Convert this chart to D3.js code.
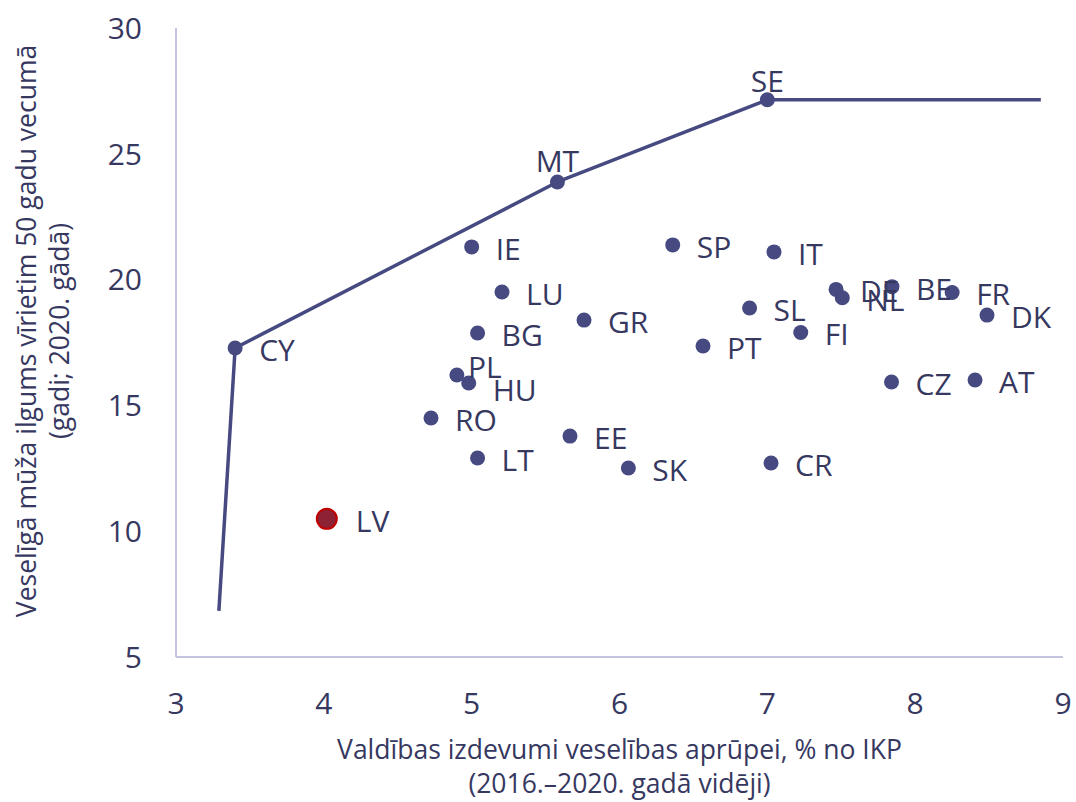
<!DOCTYPE html>
<html>
<head>
<meta charset="utf-8">
<script src="https://cdn.jsdelivr.net/npm/d3@7"></script>
<style>
  html, body { margin: 0; padding: 0; background: #fff; }
  svg { display: block; font-family: "Open Sans", "Noto Sans", sans-serif; }
</style>
</head>
<body>
<svg id="chart" width="1076" height="802"></svg>
<script>
// valstis: izdevumi % no IKP (x), veselīgā mūža ilgums (y)
const countries = ["CY", "MT", "SE", "IE", "LU", "BG", "GR", "SP", "IT", "SL", "PT", "FI", "DE", "NL", "BE", "FR", "DK", "CZ", "AT", "PL", "HU", "RO", "EE", "LT", "SK", "CR", "LV"];
const spending  = [3.40, 5.58, 7.00, 5.00, 5.205, 5.04, 5.76, 6.36, 7.045, 6.88, 6.565, 7.226, 7.465, 7.507, 7.843, 8.25, 8.486, 7.84, 8.405, 4.90, 4.98, 4.725, 5.665, 5.04, 6.06, 7.025, 4.02];
const healthy   = [17.28, 23.88, 27.15, 21.30, 19.51, 17.88, 18.39, 21.38, 21.10, 18.87, 17.36, 17.90, 19.61, 19.28, 19.72, 19.49, 18.59, 15.93, 16.01, 16.21, 15.89, 14.50, 13.78, 12.91, 12.51, 12.71, 10.49];

// efektivitātes robeža
const frontierX = [3.29, 3.40, 5.58, 7.00, 8.85];
const frontierY = [6.83, 17.28, 23.88, 27.15, 27.15];

const xTicks = [3, 4, 5, 6, 7, 8, 9];
const yTicks = [5, 10, 15, 20, 25, 30];
const highlight = "LV";

// etiķešu novietojums (pārējām – pa labi)
const labelPos = {
  SE: { dx: 0, dy: -8, anchor: "middle" },
  MT: { dx: 0, dy: -10, anchor: "middle" },
  PL: { dx: 11, dy: 3 },
  HU: { dx: 24, dy: 18 },
  LV: { dx: 29, dy: 13 }
};

const W = 1076, H = 802;
const m = { top: 28, right: 13, bottom: 145, left: 176 };
const svg = d3.select("#chart");

const x = d3.scaleLinear().domain([3, 9]).range([m.left, W - m.right]);
const y = d3.scaleLinear().domain([5, 30]).range([H - m.bottom, m.top]);

const AXIS = "#c3c3df", INK = "#36385f", DOT = "#464a80";

// asis
svg.append("line").attr("x1", x(3)).attr("x2", x(3)).attr("y1", y(30)).attr("y2", y(5))
  .attr("stroke", AXIS).attr("stroke-width", 2);
svg.append("line").attr("x1", x(3)).attr("x2", x(9)).attr("y1", y(5)).attr("y2", y(5))
  .attr("stroke", AXIS).attr("stroke-width", 2);

svg.append("g").selectAll("text").data(yTicks).join("text")
  .attr("x", x(3) - 34).attr("y", d => y(d)).attr("dy", "0.36em")
  .attr("text-anchor", "end").attr("font-size", 30).attr("fill", INK)
  .text(d => d);

svg.append("g").selectAll("text").data(xTicks).join("text")
  .attr("x", d => x(d)).attr("y", y(5) + 57)
  .attr("text-anchor", "middle").attr("font-size", 30).attr("fill", INK)
  .text(d => d);

// asu nosaukumi
const xt = svg.append("text").attr("text-anchor", "middle").attr("font-size", 26.5).attr("fill", INK);
xt.append("tspan").attr("x", (x(3) + x(9)) / 2).attr("y", 759).text("Valdības izdevumi veselības aprūpei, % no IKP");
xt.append("tspan").attr("x", (x(3) + x(9)) / 2).attr("y", 793).text("(2016.–2020. gadā vidēji)");

const yc = 331;
const yt = svg.append("text").attr("text-anchor", "middle").attr("font-size", 26.5).attr("fill", INK)
  .attr("transform", `translate(0,${yc}) rotate(-90)`);
yt.append("tspan").attr("x", 0).attr("y", 36).text("Veselīgā mūža ilgums vīrietim 50 gadu vecumā");
yt.append("tspan").attr("x", 0).attr("y", 69).text("(gadi; 2020. gādā)");

// robežlīnija
const pts = frontierX.map((v, i) => [v, frontierY[i]]);
svg.append("path").datum(pts)
  .attr("d", d3.line().x(d => x(d[0])).y(d => y(d[1])))
  .attr("fill", "none").attr("stroke", DOT).attr("stroke-width", 3.5).attr("stroke-linejoin", "round");

// punkti
const data = countries.map((c, i) => ({ c, x: spending[i], y: healthy[i] }));
svg.append("g").selectAll("circle").data(data).join("circle")
  .attr("cx", d => x(d.x)).attr("cy", d => y(d.y))
  .attr("r", d => d.c === highlight ? 10 : 7.5)
  .attr("fill", d => d.c === highlight ? "#8c2234" : DOT)
  .attr("stroke", d => d.c === highlight ? "#c00000" : "none")
  .attr("stroke-width", 2);

svg.append("g").selectAll("text").data(data).join("text")
  .attr("x", d => x(d.x) + (labelPos[d.c] ? labelPos[d.c].dx : 24))
  .attr("y", d => y(d.y) + (labelPos[d.c] ? labelPos[d.c].dy : 13))
  .attr("text-anchor", d => labelPos[d.c] && labelPos[d.c].anchor ? labelPos[d.c].anchor : "start")
  .attr("font-size", 30).attr("fill", INK)
  .text(d => d.c);
</script>
</body>
</html>
